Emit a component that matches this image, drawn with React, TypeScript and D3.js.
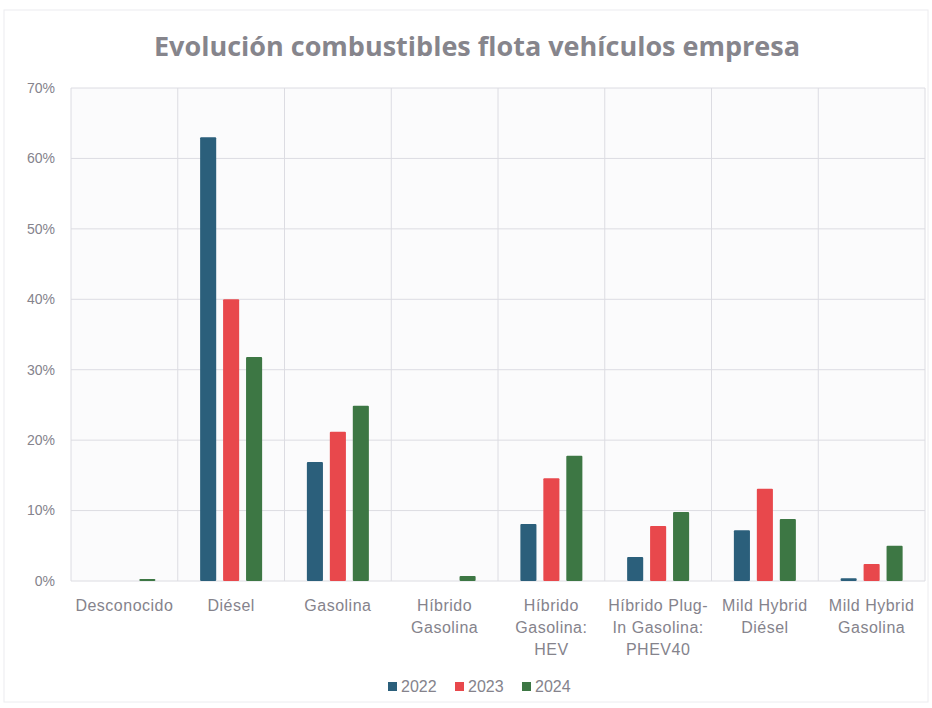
import React from "react";
import * as d3 from "d3";

const categories: string[][] = [
  ["Desconocido"],
  ["Diésel"],
  ["Gasolina"],
  ["Híbrido", "Gasolina"],
  ["Híbrido", "Gasolina:", "HEV"],
  ["Híbrido Plug-", "In Gasolina:", "PHEV40"],
  ["Mild Hybrid", "Diésel"],
  ["Mild Hybrid", "Gasolina"],
];
const years = ["2022", "2023", "2024"];
const values2022 = [0, 63.0, 16.9, 0, 8.1, 3.4, 7.2, 0.4];
const values2023 = [0, 40.0, 21.2, 0, 14.6, 7.8, 13.1, 2.4];
const values2024 = [0.3, 31.8, 24.9, 0.7, 17.8, 9.8, 8.8, 5.0];
const yTicks = [0, 10, 20, 30, 40, 50, 60, 70];
const colors = ["#2b5f7b", "#e8484c", "#3d7744"];

const W = 932;
const H = 708;
const left = 71;
const right = 925;
const top = 88;
const bottom = 581;
const textColor = "#85838c";
const font = "'Liberation Sans', Arial, sans-serif";

export default function App() {
  const series = [values2022, values2023, values2024];
  const idx = categories.map((_, i) => String(i));
  const x0 = d3.scaleBand<string>().domain(idx).range([left, right]).padding(0);
  const groupW = 62;
  const x1 = d3
    .scaleBand<string>()
    .domain(years)
    .range([0, groupW])
    .paddingInner(0.3);
  const y = d3.scaleLinear().domain([0, 70]).range([bottom, top]);
  const bw = x0.bandwidth();

  return (
    <svg
      width={W}
      height={H}
      style={{ position: "absolute", left: 0, top: 0, background: "#fff" }}
    >
      <rect x={4} y={10} width={924} height={692} fill="#fff" stroke="#ececef" />
      <text
        x={477}
        y={56}
        textAnchor="middle"
        fontFamily="'Open Sans', sans-serif"
        fontWeight={700}
        fontSize={27}
        fill="#86858c"
      >
        Evolución combustibles flota vehículos empresa
      </text>
      <rect x={left} y={top} width={right - left} height={bottom - top} fill="#fbfbfc" />
      {yTicks.map((t) => (
        <g key={t}>
          <line x1={left} x2={right} y1={y(t)} y2={y(t)} stroke="#dcdce2" strokeWidth={1} />
          <text
            x={55}
            y={y(t)}
            dy="0.35em"
            textAnchor="end"
            fontFamily={font}
            fontSize={14}
            fill={textColor}
          >
            {t}%
          </text>
        </g>
      ))}
      {d3.range(categories.length + 1).map((i) => {
        const xx = left + i * bw;
        return (
          <line key={i} x1={xx} x2={xx} y1={top} y2={bottom} stroke="#dcdce2" strokeWidth={1} />
        );
      })}
      {categories.map((c, ci) => {
        const gx = (x0(String(ci)) as number) + (bw - groupW) / 2;
        return (
          <g key={ci}>
            {series.map((s, si) => {
              const v = s[ci];
              if (v <= 0) return null;
              const yy = y(v);
              return (
                <rect
                  key={si}
                  x={gx + (x1(years[si]) as number)}
                  y={yy}
                  width={x1.bandwidth()}
                  height={Math.max(bottom - yy, 1.5)}
                  fill={colors[si]}
                  rx={1}
                />
              );
            })}
            <text
              x={(x0(String(ci)) as number) + bw / 2}
              y={611}
              textAnchor="middle"
              fontFamily={font}
              fontSize={16}
              letterSpacing={0.5}
              fill={textColor}
            >
              {c.map((line, li) => (
                <tspan key={li} x={(x0(String(ci)) as number) + bw / 2} dy={li === 0 ? 0 : 22}>
                  {line}
                </tspan>
              ))}
            </text>
          </g>
        );
      })}
      {years.map((yr, i) => {
        const lx = 388 + i * 67;
        return (
          <g key={yr}>
            <rect x={lx} y={682} width={9} height={9} fill={colors[i]} />
            <text x={lx + 13} y={692} fontFamily={font} fontSize={16} fill={textColor}>
              {yr}
            </text>
          </g>
        );
      })}
    </svg>
  );
}
